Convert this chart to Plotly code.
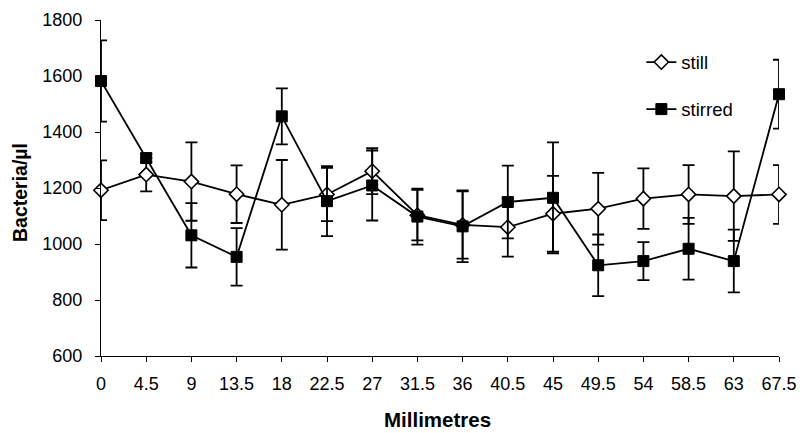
import plotly.graph_objects as go

millimetres = [0, 4.5, 9, 13.5, 18, 22.5, 27, 31.5, 36, 40.5, 45, 49.5, 54, 58.5, 63, 67.5]
tick_labels = ["0", "4.5", "9", "13.5", "18", "22.5", "27", "31.5", "36", "40.5", "45", "49.5", "54", "58.5", "63", "67.5"]
y_ticks = [600, 800, 1000, 1200, 1400, 1600, 1800]

still_values = [1192, 1248, 1223, 1178, 1140, 1177, 1260, 1103, 1068, 1060, 1108, 1126, 1162, 1177, 1171, 1177]
still_errors = [107, 60, 140, 103, 160, 95, 82, 90, 120, 105, 135, 128, 108, 105, 160, 105]

stirred_values = [1582, 1307, 1031, 954, 1456, 1153, 1209, 1098, 1063, 1150, 1165, 924, 939, 983, 939, 1535]
stirred_errors = [145, 15, 115, 103, 100, 125, 125, 100, 128, 130, 198, 110, 68, 110, 112, 123]

font_family = "Liberation Sans, Arial, sans-serif"

fig = go.Figure()

fig.add_trace(go.Scatter(
    x=millimetres, y=still_values, name="still", mode="lines+markers",
    legendgroup="a",
    line=dict(color="black", width=1.8),
    marker=dict(symbol="diamond", size=11, color="white", line=dict(color="black", width=1.6)),
    error_y=dict(type="data", array=still_errors, visible=True, color="black", thickness=1.8, width=6),
    cliponaxis=False,
))

fig.add_trace(go.Scatter(
    x=millimetres, y=stirred_values, name="stirred", mode="lines+markers",
    legendgroup="b",
    line=dict(color="black", width=1.8),
    marker=dict(symbol="square", size=11, color="black", line=dict(color="black", width=1)),
    error_y=dict(type="data", array=stirred_errors, visible=True, color="black", thickness=1.8, width=6),
    cliponaxis=False,
))

fig.update_layout(
    width=800, height=433,
    margin=dict(l=101, r=21, t=20, b=77),
    plot_bgcolor="white", paper_bgcolor="white",
    font=dict(family=font_family, size=18, color="black"),
    showlegend=True,
    legend=dict(
        x=0.797, y=0.93, xanchor="left", yanchor="top",
        traceorder="grouped",
        font=dict(size=18.5, family=font_family),
        bgcolor="rgba(0,0,0,0)",
        tracegroupgap=20,
    ),
    xaxis=dict(
        range=[0, 67.5],
        tickmode="array", tickvals=millimetres, ticktext=tick_labels,
        showgrid=False, zeroline=False, automargin=False,
        showline=True, linecolor="black", linewidth=1.2,
        ticks="outside", ticklen=5, tickcolor="black", tickwidth=1.2,
        ticklabelstandoff=6,
        tickfont=dict(size=18),
    ),
    xaxis2=dict(
        overlaying="x", matches="x", anchor="y", side="bottom",
        range=[0, 67.5],
        tickmode="array", tickvals=millimetres,
        showticklabels=False, showgrid=False, zeroline=False, automargin=False,
        showline=False,
        ticks="inside", ticklen=5, tickcolor="black", tickwidth=1.2,
    ),
    yaxis=dict(
        range=[600, 1800],
        tickmode="array", tickvals=y_ticks,
        showgrid=False, zeroline=False, automargin=False,
        showline=True, linecolor="black", linewidth=1.2,
        ticks="outside", ticklen=5, tickcolor="black", tickwidth=1.2,
        ticklabelstandoff=9,
        tickfont=dict(size=18),
    ),
    annotations=[
        dict(text="<b>Millimetres</b>", xref="paper", yref="paper", x=0.497, y=-0.19,
             xanchor="center", yanchor="middle", showarrow=False, font=dict(size=20.5)),
        dict(text="<b>Bacteria/µl</b>", xref="paper", yref="paper", x=-0.1195, y=0.488,
             xanchor="center", yanchor="middle", showarrow=False, textangle=-90, font=dict(size=19.5)),
    ],
)

fig.write_html("out.html", config={"displayModeBar": False},
               post_script="document.body.style.margin='0';")
